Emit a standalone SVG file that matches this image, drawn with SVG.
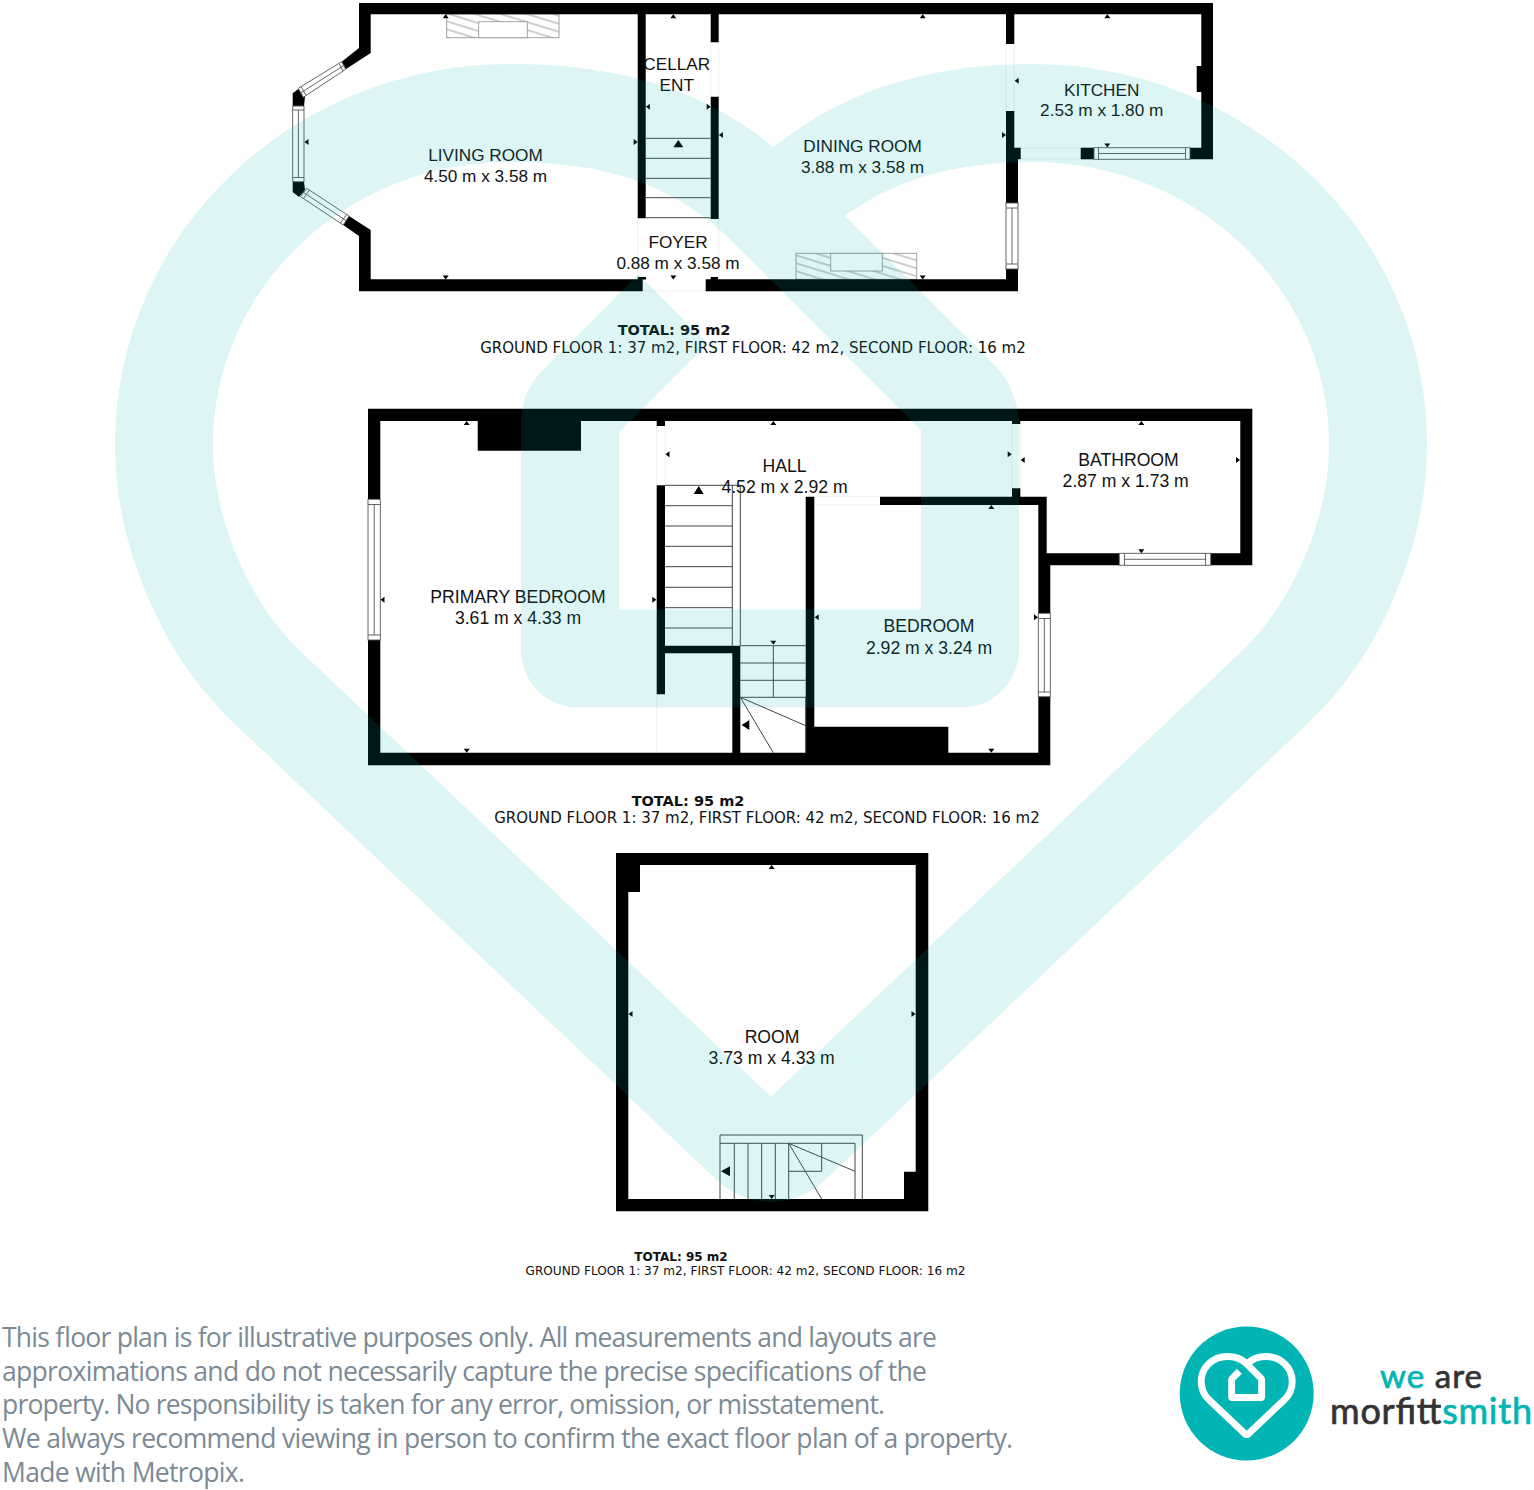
<svg xmlns="http://www.w3.org/2000/svg" xmlns:xlink="http://www.w3.org/1999/xlink" width="1534" height="1490" viewBox="0 0 1534 1490">
<style>
.wall{fill:#000}
.win{fill:#fff;stroke:#555;stroke-width:.9}
.wl{stroke:#555;stroke-width:.9;fill:none}
.st{stroke:#444;stroke-width:1;fill:none}
.fa{fill:none;stroke:#e8e8e8;stroke-width:.7}
.fp{fill:url(#hatch);stroke:#999;stroke-width:.9}
.fi{fill:#fff;stroke:#999;stroke-width:.9}
.lb{font-family:"Liberation Sans",Arial,sans-serif;font-size:17.2px;fill:#111;text-anchor:middle}
.lb2{font-size:17.6px}
.tt{font-family:"DejaVu Sans",sans-serif;text-anchor:middle;fill:#111}
.disc{font-family:"Open Sans",sans-serif;font-size:26.5px;fill:#7b8a94}
.big{fill:#000}
.lt{font-family:Lato,sans-serif;stroke-width:.7}
.lt-t{fill:#00b5b3;stroke:#00b5b3}
.lt-d{fill:#333;stroke:#333}
</style>
<defs>
<pattern id="hatch" width="7.6" height="7.6" patternUnits="userSpaceOnUse" patternTransform="rotate(17)"><rect width="7.6" height="7.6" fill="#fff"/><line x1="0" y1="3.8" x2="7.6" y2="3.8" stroke="#888" stroke-width=".8"/></pattern>
<polygon id="t" points="0,0 -3,4 3,4"/>
<path id="heart" fill="none" stroke-linejoin="round" d="M673,309 L579,403 Q570,412 570,422 L570,648.5 Q570,658.5 580,658.5 L960,658.5 Q970,658.5 970,648.5 L970,425 Q970,415 963,403 L760,200 C690,135 610,113 510,113 C320,113 164,260 164,445 C164,530 204,628 268,688 L750.4,1144.5 A30,30 0 0 0 791.6,1144.5 L1274,688 C1338,628 1378,530 1378,445 C1378,260 1222,113 1032,113 C932,113 855,140 793,195"/>
</defs>
<rect width="1534" height="1490" fill="#fff"/>

<g id="ground-floor">
<g id="gf-fireplaces">
<rect class="fp" x="446.7" y="14" width="112.3" height="23.7"/><rect class="fi" x="478.7" y="21.7" width="48.6" height="16"/>
<rect class="fp" x="796" y="253.3" width="120.7" height="26"/><rect class="fi" x="830.7" y="253.3" width="51.6" height="17.7"/>
</g>
<path class="fa" d="M637.7,218 V278 M718.7,219 V278 M642.7,291 H705.7 M710.7,42 V97 M718.7,42 V97 M1006,44 V111 M1014.3,44 V111 M1021,148 H1080 M1021,159 H1080"/>
<g id="gf-walls" class="wall">
<path d="M359,3 H1213 V159.3 H1190 V147.7 H1201.3 V92 H1196.7 V66 H1201.3 V14.3 H1014.3 V44 H1006 V14.3 H718.7 V42.3 H710.7 V14.3 H645.7 V218.3 H637.7 V14.3 H370.7 V53 L345.7,69.3 L341.7,61.7 L359,48 Z"/>
<path d="M1006,111 H1014.3 V147.7 H1020.7 V159.3 H1018 V203 H1006 Z"/>
<rect x="1080.7" y="147.7" width="13.3" height="11.6"/>
<path d="M710.7,96.7 H718.7 V219 H710.7 Z"/>
<path d="M1006,269 H1018 V291.3 H705.7 V279.3 H710.7 V277 H718 V279.3 H1006 Z"/>
<path d="M359,236 L343.3,225 L349,216 L370.7,230 V279.3 H637.7 V277 H646 V279.5 H642.7 V291.3 H359 Z"/>
<path d="M292.7,93.3 L298.3,89 L305,96.7 L304,106 H292.7 Z"/>
<path d="M292.7,181.7 H304 L305,190 L299,197 L292.7,192 Z"/>
</g>
<g id="gf-windows">
<polygon class="win" points="298.3,88.3 303.3,97.3 345.7,69.3 341.7,61.7"/>
<path class="wl" d="M301,86.5 L306,95.3 M339,63.5 L343,71 M300.8,92.8 L343.7,65.5"/>
<rect class="win" x="292.7" y="106" width="11.3" height="75.7"/>
<path class="wl" d="M292.7,110 H304 M292.7,177.5 H304 M298.4,110 V177.5"/>
<polygon class="win" points="306.7,188.3 300.7,196.7 343.3,225 349,216"/>
<path class="wl" d="M309.5,190 L303.5,198.5 M346.5,214.5 L340.5,223 M303.5,192.5 L346,220.5"/>
<rect class="win" x="1094" y="147.7" width="96" height="11.6"/>
<path class="wl" d="M1098.5,147.7 V159.3 M1185.5,147.7 V159.3 M1098.5,153.5 H1185.5"/>
<rect class="win" x="1006" y="203" width="12" height="66"/>
<path class="wl" d="M1006,208 H1018 M1006,264 H1018 M1012,208 V264"/>
</g>
<path id="gf-stairs" class="st" d="M645.7,138.3 H710.7 M645.7,158.3 H710.7 M645.7,178.3 H710.7 M645.7,197.7 H710.7 M645.7,217.7 H710.7"/>
<polygon class="big" points="673.3,147.3 683.3,147.3 678.3,140"/>
<g id="gf-ticks">
<use href="#t" transform="translate(445.7,14.3)"/><use href="#t" transform="translate(673.3,14.3)"/><use href="#t" transform="translate(922.7,14.3)"/><use href="#t" transform="translate(1107.3,14.3)"/>
<use href="#t" transform="translate(445.7,279.5) rotate(180)"/><use href="#t" transform="translate(673.3,279.5) rotate(180)"/><use href="#t" transform="translate(922.7,279.5) rotate(180)"/><use href="#t" transform="translate(1107.3,147.5) rotate(180)"/>
<use href="#t" transform="translate(304.5,142) rotate(-90)"/><use href="#t" transform="translate(637.7,142) rotate(90)"/><use href="#t" transform="translate(645.9,106.7) rotate(-90)"/><use href="#t" transform="translate(710.7,106.7) rotate(90)"/><use href="#t" transform="translate(718.9,135) rotate(-90)"/><use href="#t" transform="translate(1006,135) rotate(90)"/><use href="#t" transform="translate(1014.7,80.7) rotate(-90)"/>
</g>
<g id="room-living"><text class="lb" x="485.5" y="161.3">LIVING ROOM</text><text class="lb" x="485.5" y="181.7">4.50 m x 3.58 m</text></g>
<g id="room-cellar"><text class="lb" x="676.7" y="70">CELLAR</text><text class="lb" x="676.7" y="90.7">ENT</text></g>
<g id="room-dining"><text class="lb" x="862.5" y="152.3">DINING ROOM</text><text class="lb" x="862.5" y="172.7">3.88 m x 3.58 m</text></g>
<g id="room-kitchen"><text class="lb" x="1101.7" y="95.6">KITCHEN</text><text class="lb" x="1101.7" y="116.3">2.53 m x 1.80 m</text></g>
<g id="room-foyer"><text class="lb" x="678" y="248.3">FOYER</text><text class="lb" x="678" y="269">0.88 m x 3.58 m</text></g>
<text class="tt" x="674" y="335" font-size="14.5" font-weight="bold">TOTAL: 95 m2</text>
<text class="tt" x="753" y="352.5" font-size="15">GROUND FLOOR 1: 37 m2, FIRST FLOOR: 42 m2, SECOND FLOOR: 16 m2</text>
</g>

<g id="first-floor">
<path class="fa" d="M656.7,426 V485 M665,426 V485 M656.7,694 V752 M1012,424 V488 M1020.3,424 V488 M814.3,505 H880 M814.3,496.7 H880"/>
<g id="ff-walls" class="wall">
<path d="M368,408.7 H1252.3 V565.3 H1210.7 V553.3 H1240.3 V421 H1020.3 V424 H1012 V421 H665 V426 H656.7 V421 H581 V450.7 H477.7 V421 H380.3 V499.3 H368 Z"/>
<path d="M368,640 H380.3 V752.7 H732.3 V653.3 H665 V694.3 H656.7 V485.3 H665 V645.7 H740.3 V752.7 H805.7 V496.7 H814.3 V726.7 H948.3 V752.7 H1038.3 V696.7 H1050.3 V765.3 H368 Z"/>
<path d="M880,496.7 H1012 V488.3 H1020.3 V496.7 H1046.7 V553.3 H1119.3 V565.3 H1050.3 V613.3 H1038.3 V505 H880 Z"/>
</g>
<g id="ff-windows">
<rect class="win" x="368" y="499.3" width="12.3" height="140.7"/>
<path class="wl" d="M368,504.5 H380.3 M368,635 H380.3 M374.2,504.5 V635"/>
<rect class="win" x="1038.3" y="613.3" width="12" height="83.4"/>
<path class="wl" d="M1038.3,618.5 H1050.3 M1038.3,692 H1050.3 M1044.3,618.5 V692"/>
<rect class="win" x="1119.3" y="553.3" width="91.4" height="12"/>
<path class="wl" d="M1124.5,553.3 V565.3 M1205.5,553.3 V565.3 M1124.5,559.3 H1205.5"/>
</g>
<path id="ff-stairs" class="st" d="M665,485.3 H740.3 V645.7 M732.3,485.3 V645.7 M665,505.7 H732.3 M665,526 H732.3 M665,546.3 H732.3 M665,566.7 H732.3 M665,587.3 H732.3 M665,607.7 H732.3 M665,628 H732.3 M740.3,645.7 H805.7 M740.3,663 H805.7 M740.3,680.3 H805.7 M740.3,697.3 H805.7 M773.3,645.7 V697.3 M740.3,697.3 L805.7,725.7 M740.3,697.3 L773.3,752.7 M805.7,697 V753"/>
<polygon class="big" points="698.7,486 693.7,494 703.7,494"/>
<polygon class="big" points="741.7,725 749.3,720 749.3,730"/>
<g id="ff-ticks">
<use href="#t" transform="translate(466.7,421)"/><use href="#t" transform="translate(773.3,421)"/><use href="#t" transform="translate(1141.3,421)"/><use href="#t" transform="translate(991.3,505)"/>
<use href="#t" transform="translate(466.7,752.7) rotate(180)"/><use href="#t" transform="translate(991.3,752.7) rotate(180)"/><use href="#t" transform="translate(1141.3,553.3) rotate(180)"/><use href="#t" transform="translate(773.3,644.7) rotate(180)"/>
<use href="#t" transform="translate(380.5,599.7) rotate(-90)"/><use href="#t" transform="translate(665.5,454.3) rotate(-90)"/><use href="#t" transform="translate(1020.7,460) rotate(-90)"/><use href="#t" transform="translate(814.7,617.3) rotate(-90)"/>
<use href="#t" transform="translate(656.3,599.7) rotate(90)"/><use href="#t" transform="translate(1011.7,454.3) rotate(90)"/><use href="#t" transform="translate(1240,460) rotate(90)"/><use href="#t" transform="translate(1038,617.3) rotate(90)"/>
</g>
<g id="room-primary"><text class="lb lb2" x="518" y="602.7">PRIMARY BEDROOM</text><text class="lb lb2" x="518" y="624.3">3.61 m x 4.33 m</text></g>
<g id="room-hall"><text class="lb lb2" x="784.5" y="471.7">HALL</text><text class="lb lb2" x="784.5" y="493.3">4.52 m x 2.92 m</text></g>
<g id="room-bathroom"><text class="lb lb2" x="1128.5" y="466">BATHROOM</text><text class="lb lb2" x="1125.7" y="487.3">2.87 m x 1.73 m</text></g>
<g id="room-bedroom"><text class="lb lb2" x="929" y="632.3">BEDROOM</text><text class="lb lb2" x="929" y="654">2.92 m x 3.24 m</text></g>
<text class="tt" x="688" y="805.5" font-size="14.5" font-weight="bold">TOTAL: 95 m2</text>
<text class="tt" x="767" y="822.5" font-size="15">GROUND FLOOR 1: 37 m2, FIRST FLOOR: 42 m2, SECOND FLOOR: 16 m2</text>
</g>

<g id="second-floor">
<path class="wall" fill-rule="evenodd" d="M616,853 H928.3 V1211.3 H616 Z M628.3,892 V1199 H904 V1171.7 H915.7 V865 H640 V892 Z"/>
<path id="sf-stairs" class="st" d="M720,1199 V1135 H862.3 V1199 M720,1143.3 H855 V1199 M734.3,1143.3 V1199 M748,1143.3 V1199 M761.7,1143.3 V1199 M775.3,1143.3 V1199 M788.7,1143.3 V1199 M788.7,1171.3 H821.7 V1143.3 M788.7,1143.3 L855,1171.3 M788.7,1143.3 L821.7,1199"/>
<polygon class="big" points="721,1171.3 730,1166.3 730,1176.3"/>
<g id="sf-ticks">
<use href="#t" transform="translate(771.7,865)"/><use href="#t" transform="translate(771.7,1199) rotate(180)"/><use href="#t" transform="translate(628.5,1014) rotate(-90)"/><use href="#t" transform="translate(915.5,1014) rotate(90)"/>
</g>
<g id="room-room"><text class="lb lb2" x="772" y="1042.7">ROOM</text><text class="lb lb2" x="771.7" y="1064">3.73 m x 4.33 m</text></g>
<text class="tt" x="681" y="1260.5" font-size="12" font-weight="bold">TOTAL: 95 m2</text>
<text class="tt" x="745.5" y="1275" font-size="12.1">GROUND FLOOR 1: 37 m2, FIRST FLOOR: 42 m2, SECOND FLOOR: 16 m2</text>
</g>

<g id="watermark" opacity=".13"><use href="#heart" stroke="#00b5b3" stroke-width="98"/></g>

<g id="disclaimer" class="disc">
<text x="2" y="1346.5" textLength="935">This floor plan is for illustrative purposes only. All measurements and layouts are</text>
<text x="2" y="1380.5" textLength="925">approximations and do not necessarily capture the precise specifications of the</text>
<text x="2" y="1414" textLength="883">property. No responsibility is taken for any error, omission, or misstatement.</text>
<text x="2" y="1447.5" textLength="1011">We always recommend viewing in person to confirm the exact floor plan of a property.</text>
<text x="2" y="1481.5" textLength="243">Made with Metropix.</text>
</g>

<g id="logo">
<circle cx="1246.7" cy="1393.5" r="67" fill="#00b5b3"/>
<use href="#heart" stroke="#fff" stroke-width="92" transform="translate(1246.7,1348.1) scale(.075) translate(-771,0)"/>
<text class="lt" x="1380" y="1388" font-size="33" textLength="102"><tspan class="lt-t">we</tspan><tspan class="lt-d"> are</tspan></text>
<text class="lt" x="1330" y="1424" font-size="36" textLength="202"><tspan class="lt-d">morfitt</tspan><tspan class="lt-t">smith</tspan></text>
</g>
</svg>
